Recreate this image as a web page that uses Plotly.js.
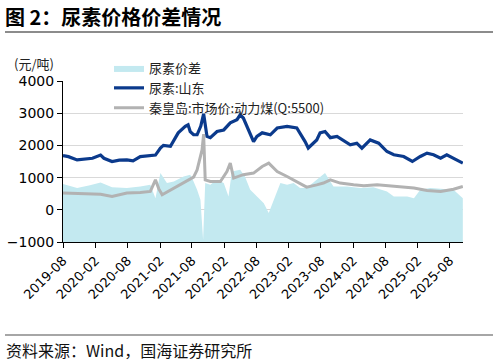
<!DOCTYPE html>
<html>
<head>
<meta charset="utf-8">
<script src="https://cdn.plot.ly/plotly-3.0.1.min.js"></script>
<style>
html,body{margin:0;padding:0;background:#fff;}
#chart{width:498px;height:362px;}
</style>
</head>
<body>
<div id="chart"></div>
<script>
// Series names
const spreadName = '尿素价差';
const ureaName = '尿素:山东';
const coalName = '秦皇岛:市场价:动力煤(Q:5500)';

// 尿素:山东 (元/吨)
const ureaDates = ['2019-08-01','2019-09-01','2019-10-20','2019-12-15','2020-01-15','2020-03-01','2020-03-20','2020-05-05','2020-06-15','2020-07-28','2020-09-01','2020-10-12','2020-12-08','2021-01-06','2021-02-03','2021-02-20','2021-04-01','2021-05-15','2021-06-24','2021-07-10','2021-07-22','2021-08-10','2021-08-30','2021-09-20','2021-10-06','2021-10-25','2021-11-13','2021-12-21','2022-01-28','2022-03-06','2022-04-13','2022-05-01','2022-05-19','2022-06-15','2022-07-16','2022-08-04','2022-09-03','2022-10-19','2022-11-27','2023-01-22','2023-03-18','2023-05-04','2023-05-22','2023-07-09','2023-07-28','2023-08-25','2023-09-24','2023-11-01','2024-01-15','2024-02-21','2024-03-21','2024-05-07','2024-06-24','2024-08-10','2024-09-18','2024-11-13','2025-01-01','2025-02-15','2025-03-25','2025-05-01','2025-06-10','2025-07-15','2025-08-22','2025-10-14'];
const ureaValues = [1680,1650,1550,1580,1600,1700,1600,1500,1540,1550,1520,1650,1680,1700,1920,2000,1970,2390,2590,2640,2430,2330,2330,2600,2980,2280,2240,2430,2480,2700,2800,2950,2850,2480,2120,2280,2390,2330,2540,2590,2540,2120,1920,2170,2390,2430,2240,2280,2020,2070,1915,2170,2070,1810,1710,1655,1500,1655,1760,1710,1605,1710,1605,1450];

// 秦皇岛:市场价:动力煤(Q:5500) (元/吨)
const coalDates = ['2019-08-01','2019-12-15','2020-03-01','2020-05-05','2020-07-28','2020-10-12','2020-12-08','2021-01-06','2021-01-25','2021-02-13','2021-04-20','2021-06-15','2021-08-10','2021-08-30','2021-09-27','2021-10-06','2021-10-15','2021-11-13','2022-01-09','2022-02-15','2022-03-06','2022-03-25','2022-05-19','2022-07-16','2022-09-03','2022-10-10','2022-11-27','2023-01-22','2023-02-28','2023-05-13','2023-07-09','2023-08-16','2023-09-24','2023-11-19','2024-02-03','2024-04-01','2024-06-15','2024-08-10','2024-10-25','2025-01-10','2025-03-25','2025-06-10','2025-08-22','2025-10-14'];
const coalValues = [520,500,480,415,520,540,570,930,650,465,675,850,1015,1240,1860,2350,930,880,880,1190,1450,985,1090,1140,1345,1450,1190,1035,930,705,775,830,930,830,775,745,775,745,725,675,600,570,640,725];

// 尿素价差 (元/吨)
const spreadDates = ['2019-08-01','2019-10-20','2020-01-01','2020-03-01','2020-05-05','2020-07-28','2020-10-12','2020-12-08','2021-01-06','2021-02-03','2021-03-12','2021-04-20','2021-06-15','2021-07-22','2021-08-10','2021-08-30','2021-09-18','2021-10-03','2021-10-15','2021-11-13','2021-12-21','2022-01-28','2022-02-24','2022-03-15','2022-05-01','2022-05-28','2022-06-27','2022-08-04','2022-09-12','2022-10-10','2022-11-07','2022-12-15','2023-01-22','2023-02-28','2023-04-06','2023-05-13','2023-07-09','2023-08-16','2023-08-25','2023-10-12','2023-12-28','2024-03-12','2024-05-25','2024-08-10','2024-09-18','2024-12-03','2025-01-10','2025-02-15','2025-04-12','2025-06-10','2025-08-22','2025-10-14'];
const spreadValues = [800,675,760,850,700,675,725,775,360,1140,830,880,1035,1090,880,620,310,-930,830,775,930,830,415,1190,1240,1035,620,415,205,-100,310,830,775,830,675,675,930,1090,1140,725,725,675,700,570,415,415,360,620,675,650,620,360];

// Axis settings
const yMin = -1000, yMax = 4000;
const xStart = '2019-08-01', xEnd = '2025-10-15';

const baseline = spreadDates.map(() => yMin);

const traces = [
  {x: spreadDates, y: baseline, type:'scatter', mode:'lines', line:{width:0}, showlegend:false, hoverinfo:'skip'},
  {x: spreadDates, y: spreadValues, name: spreadName, type:'scatter', mode:'lines', fill:'tonexty', fillcolor:'#c3e9f0', line:{width:0, color:'#c3e9f0'}},
  {x: ureaDates, y: ureaValues, name: ureaName, type:'scatter', mode:'lines', line:{color:'#0b3a8c', width:3.2}},
  {x: coalDates, y: coalValues, name: coalName, type:'scatter', mode:'lines', line:{color:'#b2b2b2', width:3}}
];

const P = 400, H = 161; // plot size in px
const px = v => (v - 63) / P;
const py = v => (242 - v) / H;

const layout = {
  width: 498, height: 362,
  margin: {l:63, r:35, t:81, b:120, pad:0},
  paper_bgcolor:'#fff', plot_bgcolor:'#fff',
  font: {family:'DejaVu Sans, Arial, sans-serif', color:'#000'},
  showlegend: true,
  legend: {x: px(109), y: py(53), xanchor:'left', yanchor:'top', bgcolor:'rgba(0,0,0,0)', traceorder:'normal',
           font:{family:'Noto Sans CJK SC, sans-serif', size:13, color:'#222'}, tracegroupgap:0, itemwidth:30},
  xaxis: {type:'date', range:[xStart, xEnd], tick0:'2019-08-01', dtick:'M6', tickformat:'%Y-%m',
          tickangle:-45, ticks:'outside', ticklen:5, tickcolor:'#000', showline:true, linecolor:'#000', linewidth:1,
          showgrid:false, zeroline:false, tickfont:{size:13, family:'DejaVu Sans, Arial, sans-serif', color:'#000'}},
  yaxis: {range:[yMin, yMax], dtick:1000, ticks:'outside', ticklen:5, tickcolor:'#000', showline:true, linecolor:'#000', linewidth:1,
          showgrid:true, gridcolor:'#d9d9d9', gridwidth:1, zeroline:false,
          tickfont:{size:14, family:'DejaVu Sans, Arial, sans-serif', color:'#000'}},
  title: {text:'<b>图 2：尿素价格价差情况</b>', x:5/498, xanchor:'left', xref:'container', y:1-18/362, yanchor:'middle', yref:'container',
          font:{family:'Noto Sans CJK SC, sans-serif', size:20, color:'#000'}},
  annotations: [
    {text:'(元/吨)', xref:'paper', yref:'paper', x:px(12), y:py(63), xanchor:'left', yanchor:'middle', showarrow:false,
     font:{family:'Noto Sans CJK SC, sans-serif', size:13, color:'#222'}},
    {text:'资料来源：Wind，国海证券研究所', xref:'paper', yref:'paper', x:px(4), y:py(350), xanchor:'left', yanchor:'middle', showarrow:false,
     font:{family:'Noto Sans CJK SC, sans-serif', size:16, color:'#111'}}
  ],
  shapes: [
    {type:'line', xref:'paper', yref:'paper', x0:px(5), x1:px(493), y0:py(32), y1:py(32), line:{color:'#666', width:1.5}},
    {type:'line', xref:'paper', yref:'paper', x0:px(5), x1:px(493), y0:py(335), y1:py(335), line:{color:'#888', width:1.5}}
  ]
};

Plotly.newPlot('chart', traces, layout, {staticPlot:true, displayModeBar:false});
</script>
</body>
</html>
